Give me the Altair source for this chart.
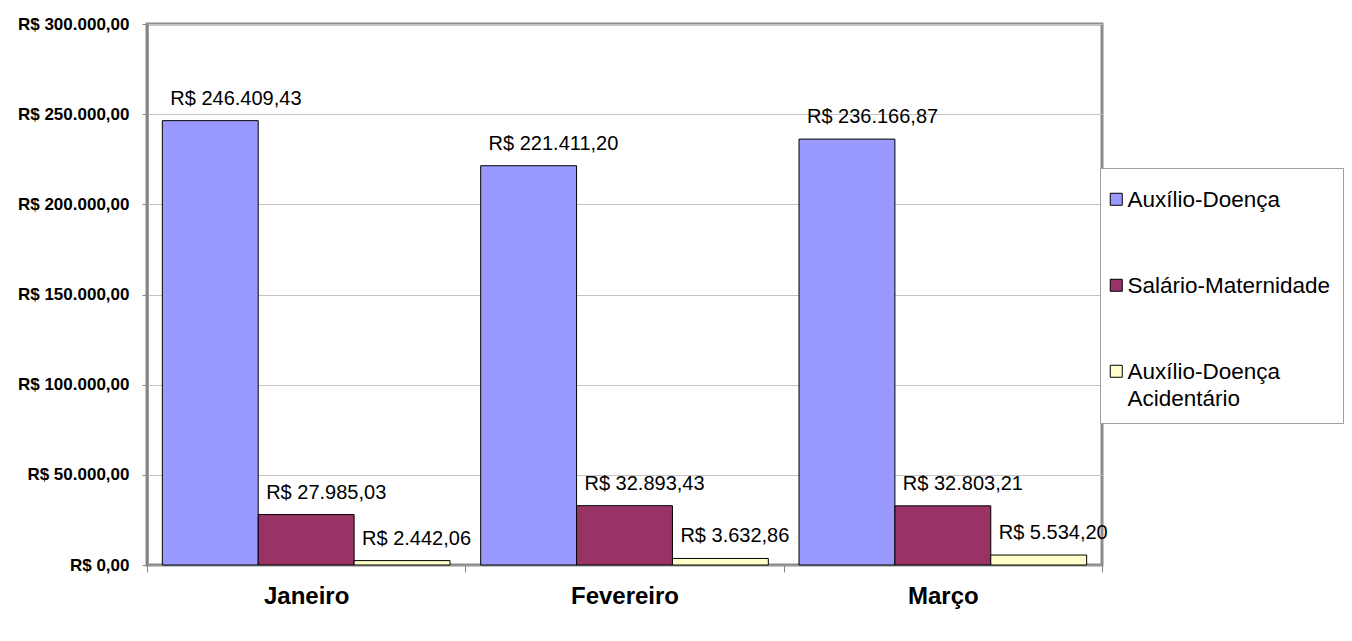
import altair as alt
import pandas as pd

months = ["Janeiro", "Fevereiro", "Março"]
series = ["Auxílio-Doença", "Salário-Maternidade", "Auxílio-Doença Acidentário"]
aux_doenca = [246409.43, 221411.20, 236166.87]
sal_mat = [27985.03, 32893.43, 32803.21]
aux_acid = [2442.06, 3632.86, 5534.20]
colors = ["#9999FF", "#993366", "#FFFFCC"]
y_ticks = [0, 50000, 100000, 150000, 200000, 250000, 300000]


def brl(v):
    s = f"{v:,.2f}".replace(",", "_").replace(".", ",").replace("_", ".")
    return "R$ " + s


rows = []
for name, vals in zip(series, [aux_doenca, sal_mat, aux_acid]):
    for m, v in zip(months, vals):
        rows.append({"mes": m, "serie": name, "valor": v, "rotulo": brl(v)})
df = pd.DataFrame(rows)

FONT = "Liberation Sans"

x = alt.X(
    "mes:N",
    sort=months,
    scale=alt.Scale(paddingInner=0, paddingOuter=0),
    axis=alt.Axis(
        title=None, labelAngle=0, labelFont=FONT, labelFontSize=24,
        labelFontWeight="bold", labelColor="black", labelPadding=12,
        tickBand="extent", tickSize=7, tickColor="#888888",
        domainColor="#999999", domainWidth=1,
    ),
)
xo = alt.XOffset("serie:N", sort=series,
                 scale=alt.Scale(paddingInner=0, paddingOuter=0.16))
y = alt.Y(
    "valor:Q",
    scale=alt.Scale(domain=[0, 300000], nice=False),
    axis=alt.Axis(
        title=None, values=y_ticks,
        labelExpr="'R$ ' + replace(format(datum.value, ','), regexp(',', 'g'), '.') + ',00'",
        labelFont=FONT, labelFontSize=17, labelFontWeight="bold",
        labelColor="black", labelPadding=13, tickSize=5, tickColor="#888888",
        domainColor="#808080", domainWidth=2,
        grid=True, gridColor="#c4c4c4", gridWidth=1,
    ),
)

base = alt.Chart(df).encode(x=x, xOffset=xo, y=y)

bars = base.mark_bar(stroke="black", strokeWidth=1).encode(
    color=alt.Color(
        "serie:N",
        scale=alt.Scale(domain=series, range=colors),
        legend=alt.Legend(
            title=" ", titleFontSize=12, titlePadding=4,
            orient="none", legendX=953, legendY=144, direction="vertical",
            fillColor="white", strokeColor="#a0a0a0", padding=12,
            symbolType="M-1,-2.33H1V-0.33H-1Z", symbolSize=144,
            symbolStrokeColor="black", symbolStrokeWidth=1,
            symbolOpacity=1, symbolOffset=-7,
            labelFont=FONT, labelFontSize=22.5, labelColor="black",
            labelBaseline="alphabetic", labelLimit=400, labelOffset=0,
            rowPadding=63,
            labelExpr="datum.label == 'Auxílio-Doença Acidentário' ? ['Auxílio-Doença', 'Acidentário'] : datum.label",
        ),
    )
)

labels = base.mark_text(
    align="left", baseline="middle", dx=-40, dy=-22,
    fontSize=20, font=FONT, color="black",
).encode(text="rotulo:N")

chart = (
    alt.layer(bars, labels)
    .properties(
        width=955, height=541,
        padding={"left": 139, "top": 16, "right": 242, "bottom": 60},
        autosize=alt.AutoSizeParams(type="none"),
        background="white",
    )
    .configure(style={"guide-label": {"lineHeight": 27}})
    .configure_view(stroke="#8c8c8c", strokeWidth=3)
)

chart.save("out.html", embed_options={"renderer": "svg", "actions": False})
